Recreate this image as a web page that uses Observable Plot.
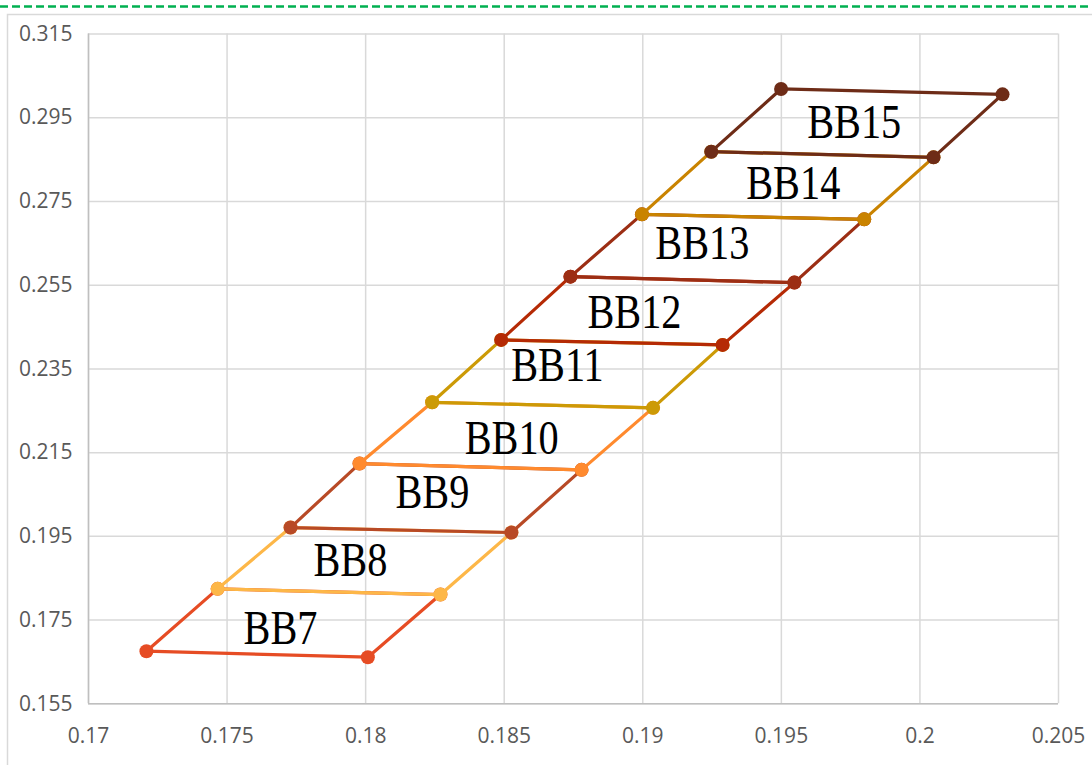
<!DOCTYPE html>
<html>
<head>
<meta charset="utf-8">
<script src="https://cdn.jsdelivr.net/npm/d3@7"></script>
<script src="https://cdn.jsdelivr.net/npm/@observablehq/plot@0.6"></script>
<style>
  html, body { margin: 0; padding: 0; background: #fff; }
  #wrap { position: relative; width: 1092px; height: 765px; overflow: hidden; }
  #deco { position: absolute; left: 0; top: 0; }
  #chart { position: absolute; left: 0; top: 0; }
</style>
</head>
<body>
<div id="wrap">
  <svg id="deco" width="1092" height="765">
    <line x1="0" y1="6.5" x2="1092" y2="6.5" stroke="#00B050" stroke-width="2.5" stroke-dasharray="8 4"></line>
    <rect x="7.5" y="14.5" width="1200" height="800" fill="none" stroke="#D9D9D9" stroke-width="1.5"></rect>
  </svg>
  <div id="chart"></div>
</div>
<script>
// Series names (bottom to top)
const series = ["BB7", "BB8", "BB9", "BB10", "BB11", "BB12", "BB13", "BB14", "BB15"];
const colors = ["#E64C24", "#FDB748", "#B84A26", "#FF8A2E", "#CC9A06", "#B52A05", "#9C2E14", "#C98300", "#6E2C17"];

// Corner points per level (level i = bottom of series i, level i+1 = top)
const leftX  = [0.17209, 0.17466, 0.17729, 0.17978, 0.18240, 0.18489, 0.18739, 0.18997, 0.19247, 0.19499];
const leftY  = [0.16756, 0.18246, 0.19710, 0.21239, 0.22702, 0.24193, 0.25704, 0.27192, 0.28689, 0.30187];
const rightX = [0.18008, 0.18270, 0.18526, 0.18779, 0.19037, 0.19288, 0.19547, 0.19799, 0.20049, 0.20298];
const rightY = [0.16613, 0.18110, 0.19591, 0.21088, 0.22569, 0.24073, 0.25561, 0.27073, 0.28553, 0.30058];

// Label positions
const labelX = [0.17693, 0.17945, 0.18241, 0.18527, 0.18692, 0.18970, 0.19215, 0.19543, 0.19763];
const labelY = [0.1730, 0.18922, 0.20546, 0.21836, 0.23579, 0.24845, 0.26492, 0.27925, 0.29382];

// Axis ticks
const xTicks = [0.17, 0.175, 0.18, 0.185, 0.19, 0.195, 0.2, 0.205];
const yTicks = [0.155, 0.175, 0.195, 0.215, 0.235, 0.255, 0.275, 0.295, 0.315];

const fmt = d => String(+d.toFixed(3));

function quad(i) {
  const pts = [
    [leftX[i], leftY[i]],
    [rightX[i], rightY[i]],
    [rightX[i + 1], rightY[i + 1]],
    [leftX[i + 1], leftY[i + 1]],
    [leftX[i], leftY[i]]
  ];
  return pts.map(([x, y]) => ({series: series[i], x, y}));
}

const labels = series.map((s, i) => ({text: s, x: labelX[i], y: labelY[i]}));

const seriesMarks = series.flatMap((s, i) => {
  const d = quad(i);
  return [
    Plot.line(d, {x: "x", y: "y", stroke: colors[i], strokeWidth: 3.2, curve: "linear"}),
    Plot.dot(d.slice(0, 4), {x: "x", y: "y", r: 7, fill: colors[i], stroke: "none"})
  ];
});

const chart = Plot.plot({
  width: 1092,
  height: 765,
  marginLeft: 88,
  marginRight: 34,
  marginTop: 33.5,
  marginBottom: 61.7,
  style: {background: "transparent", fontFamily: "'Open Sans', sans-serif", fontSize: "21px", color: "#595959", overflow: "visible"},
  x: {domain: [0.17, 0.205], ticks: xTicks, tickFormat: fmt, label: null},
  y: {domain: [0.155, 0.315], ticks: yTicks, tickFormat: fmt, label: null},
  marks: [
    Plot.gridX(xTicks, {stroke: "#D9D9D9", strokeOpacity: 1, strokeWidth: 1.5}),
    Plot.gridY(yTicks, {stroke: "#D9D9D9", strokeOpacity: 1, strokeWidth: 1.5}),
    Plot.ruleX([0.17], {stroke: "#BFBFBF", strokeWidth: 1.5}),
    Plot.ruleY([0.155], {stroke: "#BFBFBF", strokeWidth: 1.5}),
    Plot.axisX(xTicks, {tickSize: 0, tickPadding: 24, fill: "#595959", fontSize: 21, tickFormat: fmt, label: null}),
    Plot.axisY(yTicks, {tickSize: 0, tickPadding: 16, fill: "#595959", fontSize: 21, tickFormat: fmt, label: null}),
    ...seriesMarks,
    Plot.text(labels, {x: "x", y: "y", text: "text", fill: "#000", fontSize: 48, fontFamily: "'Liberation Serif', serif", className: "bblabel"})
  ]
});

document.getElementById("chart").appendChild(chart);

// Narrow the serif labels horizontally to match the condensed face in the reference
chart.querySelectorAll(".bblabel text").forEach(t => {
  const tr = t.getAttribute("transform") || "";
  t.setAttribute("transform", tr + " scale(0.84,1)");
});
</script>
</body>
</html>
